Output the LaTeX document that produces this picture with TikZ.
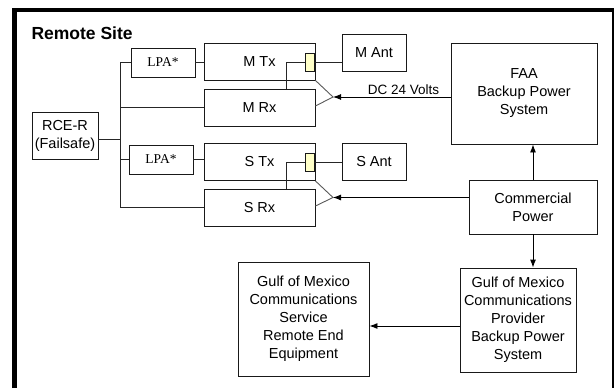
\documentclass[tikz,border=0pt]{standalone}
\usepackage{fontspec}
\setmainfont{Liberation Sans}
\newfontfamily\lpafont{Liberation Serif}
\usetikzlibrary{arrows.meta}
\definecolor{cplyellow}{RGB}{255,255,200}
\tikzset{
  box/.style={draw=black!90, line width=0.9pt, align=center, inner sep=0pt,
    font=\fontsize{14.5}{18}\selectfont},
  cpl/.style={draw=black!90, line width=0.9pt, fill=cplyellow,
    minimum width=9pt, minimum height=18pt, inner sep=0pt},
  wire/.style={draw=black!85, line width=0.9pt},
  arr/.style={wire, draw=black, -{Latex[length=8pt,width=6pt]}},
}
\begin{document}
\begin{tikzpicture}[x=1pt,y=-1pt]
    \useasboundingbox (0,0) rectangle (615,388);
    % frame of the site
    \draw[line width=4.5pt] (14.5,388) -- (14.5,9.8) -- (614,9.8);
    \draw[line width=2pt] (613,9.8) -- (613,388);
    \node[anchor=base west, font=\fontsize{17.5}{20}\selectfont\bfseries] (title) at (28,39) {Remote Site};
    % radio side
    \node[box, minimum width=66pt, minimum height=47pt] (rce) at (65,135.5) {RCE-R\\(Failsafe)};
    \node[box, minimum width=64pt, minimum height=29pt, font=\fontsize{13.5}{16}\lpafont] (lpaM) at (163,62.5) {LPA*};
    \node[box, minimum width=64pt, minimum height=29pt, font=\fontsize{13.5}{16}\lpafont] (lpaS) at (161,159.5) {LPA*};
    \node[box, minimum width=111pt, minimum height=37pt] (mtx) at (259.5,61.5) {M Tx};
    \node[box, minimum width=111pt, minimum height=37pt] (mrx) at (259.5,107.5) {M Rx};
    \node[box, minimum width=111pt, minimum height=37pt] (stx) at (259.5,162) {S Tx};
    \node[box, minimum width=111pt, minimum height=37pt] (srx) at (259.5,207.5) {S Rx};
    \node[cpl] (cplM) at (309.5,62) {};
    \node[cpl] (cplS) at (309.5,162) {};
    \node[box, minimum width=64pt, minimum height=37pt] (mant) at (374,52.5) {M Ant};
    \node[box, minimum width=64pt, minimum height=37pt] (sant) at (374,162) {S Ant};
    % power side
    \node[box, minimum width=146pt, minimum height=101pt] (faa) at (524,93.5) {FAA\\Backup Power\\System};
    \node[box, minimum width=128pt, minimum height=54pt] (comm) at (533,207) {Commercial\\Power};
    \node[box, minimum width=116pt, minimum height=104pt] (gomp) at (518,320) {Gulf of Mexico\\Communications\\Provider\\Backup Power\\System};
    \node[box, minimum width=131pt, minimum height=114pt] (goms) at (303.5,319) {Gulf of Mexico\\Communications\\Service\\Remote End\\Equipment};
    % trunk from RCE-R
    \coordinate (tTop) at (120,62.5);
    \coordinate (tBot) at (120,207.5);
    \draw[wire] (tTop) -- (tBot) -- (srx.west);
    \draw[wire] (tTop) -- (lpaM.west);
    \draw[wire] (tTop |- mrx.west) -- (mrx.west);
    \draw[wire] (tTop |- lpaS.west) -- (lpaS.west);
    \draw[wire] ([yshift=-4pt]rce.east) -- ([yshift=-4pt]rce.east -| tTop);
    \draw[wire] (lpaM.east) -- (lpaM.east -| mtx.west);
    \draw[wire] (lpaS.east) -- (lpaS.east -| stx.west);
    % couplers to antennas and receivers
    \coordinate (jM) at (286,62);
    \coordinate (jS) at (286,162);
    \draw[wire] (cplM.west) -- (jM) -- (jM |- mrx.north);
    \draw[wire] (cplS.west) -- (jS) -- (jS |- srx.north);
    \draw[wire] (cplM.east) -- (cplM.east -| mant.west);
    \draw[wire] (cplS.east) -- (cplS.east -| sant.west);
    % DC feeds
    \coordinate (tipM) at (333,97);
    \coordinate (tipS) at (333,197.5);
    \draw[wire, draw=black!65] (mtx.south east) -- (tipM) -- ([yshift=1.5pt]mrx.east);
    \draw[wire, draw=black!65] (stx.south east) -- (tipS) -- ([yshift=1.5pt]srx.east);
    \draw[arr] (faa.west |- tipM) -- (tipM) node[above, pos=0.4, inner sep=2pt, font=\fontsize{13.5}{16}\selectfont] (dc) {DC 24 Volts};
    \draw[arr] (comm.west |- tipS) -- (tipS);
    \draw[arr] (comm.north) -- (comm.north |- faa.south);
    \draw[arr] (comm.south) -- (comm.south |- gomp.north);
    \draw[arr] ([yshift=-6pt]gomp.west) -- ([yshift=-6pt]gomp.west -| goms.east);
\end{tikzpicture}
\end{document}
